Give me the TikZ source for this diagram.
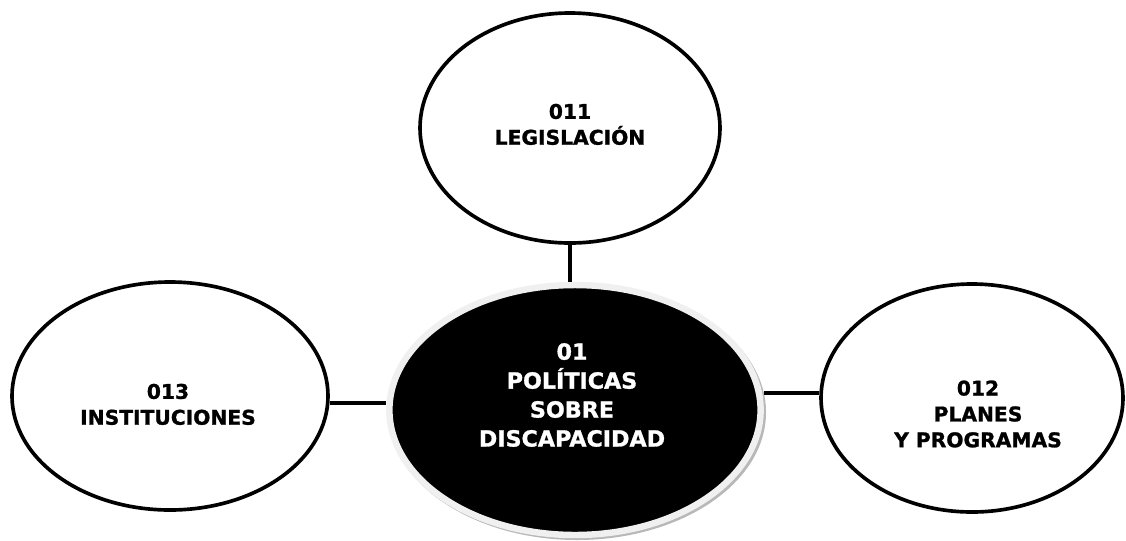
\documentclass[tikz,border=0pt]{standalone}
\usepackage{fontspec}
\setmainfont{DejaVu Sans}[BoldFeatures={FakeBold=1.2}]
\usepackage{tikz}
\usetikzlibrary{shapes.geometric}

\begin{document}
\begin{tikzpicture}[
            oval/.style = {shape=ellipse, draw=black, line width=2.6pt, inner sep=0pt}, % outer ellipses
            txt/.style = {align=center, font=\bfseries\fontsize{14.4}{18.4}\selectfont}, % labels
            semithick % line style
        ]
\useasboundingbox (0,0) rectangle (28.15,-13.5);

% shadow and centre ellipse
\fill[black!28] (14.43,-10.31) ellipse (4.72cm and 3.19cm);
\node[shape=ellipse, fill=black, draw=black!6, line width=4.6pt, minimum width=9.28cm, minimum height=6.25cm, inner sep=0pt] (pol) at (14.375,-10.25) {};

\node[oval, minimum width=7.5cm, minimum height=5.75cm] (leg) at (14.25,-3.2) {};
\node[oval, minimum width=7.9cm, minimum height=5.7cm] (inst) at (4.25,-9.9) {};
\node[oval, minimum width=7.55cm, minimum height=5.7cm] (plan) at (24.3,-9.95) {};

\node[txt] (legt) at (14.25,-3.11) {011\\LEGISLACIÓN};
\node[txt] (instt) at (4.2,-10.11) {013\\INSTITUCIONES};
\node[txt] (plant) at (24.45,-10.35) {012\\PLANES\\Y PROGRAMAS};
\node[txt, text=white, font=\bfseries\fontsize{15.8}{20.6}\selectfont] (polt) at (14.3,-9.875) {01\\POLÍTICAS\\SOBRE\\DISCAPACIDAD};

 \draw[line width=2.5pt] (leg) -- (leg |- pol.north);
 \draw[line width=2.5pt] ([yshift=-0.17cm]inst.east) -- ([yshift=-0.17cm]inst.east -| pol.west);
 \draw[line width=2.5pt] ([yshift=0.12cm]plan.west) -- ([yshift=0.12cm]plan.west -| pol.east);

\end{tikzpicture}
\end{document}
